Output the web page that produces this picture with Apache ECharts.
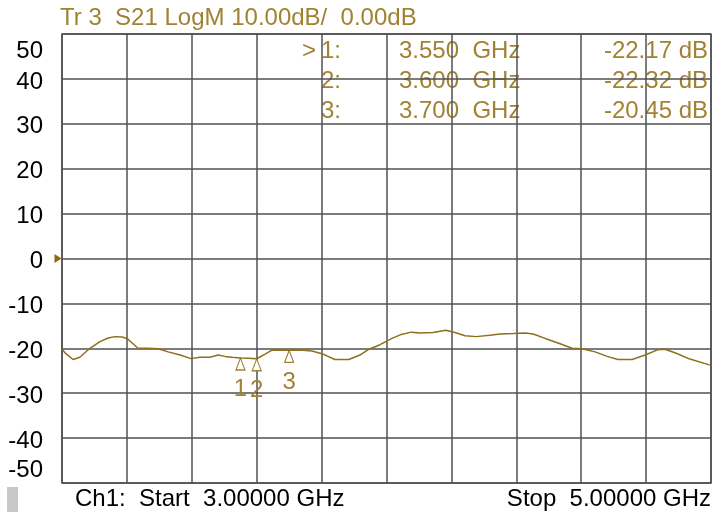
<!DOCTYPE html>
<html>
<head>
<meta charset="utf-8">
<script src="https://cdn.jsdelivr.net/npm/echarts@6/dist/echarts.min.js"></script>
<style>html,body{margin:0;padding:0;background:#fff}#c{width:712px;height:521px}</style>
</head>
<body>
<div id="c"></div>
<script>
// ---- data ----
var freqGHz = [3.000,3.012,3.034,3.055,3.086,3.117,3.142,3.163,3.185,3.200,3.219,3.234,3.265,3.296,3.327,3.364,3.398,3.425,3.456,3.481,3.502,3.524,3.550,3.573,3.600,3.626,3.647,3.700,3.733,3.770,3.801,3.841,3.884,3.918,3.946,3.980,4.017,4.042,4.076,4.103,4.143,4.183,4.211,4.242,4.276,4.319,4.350,4.390,4.427,4.452,4.489,4.535,4.572,4.602,4.643,4.680,4.713,4.757,4.797,4.837,4.858,4.889,4.935,5.000];
var s21dB = [-20.2,-21.2,-22.5,-22.0,-20.0,-18.5,-17.7,-17.4,-17.5,-17.8,-19.0,-20.0,-20.0,-20.1,-20.8,-21.5,-22.3,-22.0,-22.0,-21.5,-21.8,-22.0,-22.17,-22.2,-22.32,-21.3,-20.4,-20.45,-20.4,-20.6,-21.2,-22.5,-22.5,-21.5,-20.2,-19.2,-17.8,-17.0,-16.4,-16.6,-16.5,-16.0,-16.5,-17.2,-17.4,-17.1,-16.8,-16.7,-16.6,-16.8,-17.8,-19.0,-20.0,-20.1,-20.8,-21.8,-22.5,-22.5,-21.5,-20.3,-20.2,-21.0,-22.4,-23.8];
var markerFreqs = [3.550, 3.600, 3.700];
var markerVals = [-22.17, -22.32, -20.45];
var yTicks = [-50,-40,-30,-20,-10,0,10,20,30,40,50];
var titleText = 'Tr 3  S21 LogM 10.00dB/  0.00dB';
var startText = 'Ch1:  Start  3.00000 GHz';
var stopText = 'Stop  5.00000 GHz';

var FONT = '"Liberation Sans", Arial, sans-serif';
var FS = 24;
var GOLD = '#a08232';
var TRACE = '#8e6f1c';
var GRID = '#505050';

var chart = echarts.init(document.getElementById('c'), null, {renderer:'canvas'});

var graphics = [
  {type:'text', left:60, top:6, style:{text:titleText, font: FS+'px '+FONT, fill:GOLD}},
  {type:'text', left:75, top:487, style:{text:startText, font: FS+'px '+FONT, fill:'#000'}},
  {type:'text', right:1, top:487, style:{text:stopText, font: FS+'px '+FONT, fill:'#000', align:'right'}},
  {type:'rect', left:7, top:487, shape:{width:11,height:25}, style:{fill:'#c8c8c8'}}
];
var rowY = [39, 69, 99];
markerFreqs.forEach(function(f, i){
  var y = rowY[i];
  if (i === 0) graphics.push({type:'text', x:302, y:y, style:{text:'>', font: FS+'px '+FONT, fill:GOLD}});
  graphics.push({type:'text', x:321, y:y, style:{text:(i+1)+':', font: FS+'px '+FONT, fill:GOLD}});
  graphics.push({type:'text', x:399, y:y, style:{text:f.toFixed(3)+'  GHz', font: FS+'px '+FONT, fill:GOLD}});
  graphics.push({type:'text', x:708, y:y, style:{text:markerVals[i].toFixed(2)+' dB', font: FS+'px '+FONT, fill:GOLD, align:'right'}});
});

chart.setOption({
  backgroundColor:'#fff',
  animation:false,
  grid:{left:62, right:1, top:34, bottom:38, show:true, borderColor:GRID, borderWidth:1.5, backgroundColor:'#fff'},
  xAxis:{type:'value', min:3, max:5, interval:0.2,
    axisLine:{show:false}, axisTick:{show:false}, axisLabel:{show:false},
    splitLine:{show:true, lineStyle:{color:GRID, width:1.5}}},
  yAxis:{type:'value', min:-50, max:50, interval:10,
    axisLine:{show:false}, axisTick:{show:false},
    splitLine:{show:true, lineStyle:{color:GRID, width:1.5}},
    axisLabel:{show:true, margin:19, color:'#000', fontFamily:FONT, fontSize:FS,
      padding:[6,0,0,0],
      formatter:function(v){
        var idx = yTicks.indexOf(v);
        var s = String(yTicks[idx]);
        if (v === 50) return '{t|'+s+'}';
        if (v === -50) return '{b|'+s+'}';
        return s;
      },
      rich:{
        t:{fontFamily:FONT, fontSize:FS, color:'#000', padding:[28,0,0,0]},
        b:{fontFamily:FONT, fontSize:FS, color:'#000', padding:[0,0,32,0]}
      }}},
  graphic: graphics,
  series:[{
    type:'line', data: freqGHz.map(function(f,i){return [f, s21dB[i]];}),
    showSymbol:false, clip:false, z:5,
    lineStyle:{color:TRACE, width:1.5},
    markPoint:{
      symbol:'path://M5,0L10,12L0,12Z', symbolSize:[9,12], symbolOffset:[0,6],
      itemStyle:{color:'#fff', borderColor:GOLD, borderWidth:1.2},
      label:{show:true, position:'bottom', distance:7, color:GOLD, fontFamily:FONT, fontSize:FS,
        formatter:function(p){return p.name;}},
      data: markerFreqs.map(function(f,i){return {name:String(i+1), coord:[f, markerVals[i]]};}).concat([
        {name:'ref', coord:[3, 0], symbol:'path://M0,0L10,5L0,10Z', symbolSize:[7,9], symbolOffset:[-4,0],
         itemStyle:{color:'#8a6a14', borderWidth:0}, label:{show:false}}
      ])
    }
  }]
});
</script>
</body>
</html>
